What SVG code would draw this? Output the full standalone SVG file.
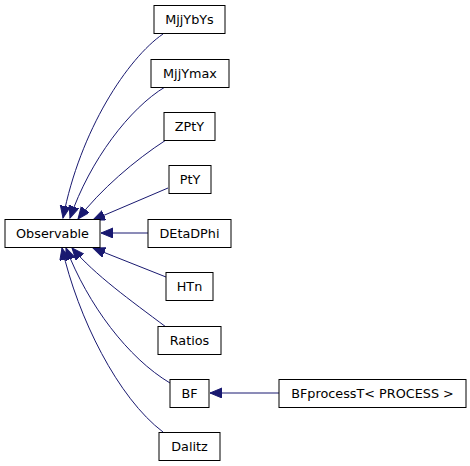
<svg xmlns="http://www.w3.org/2000/svg" width="470" height="466" viewBox="0 0 470 466">
<style>
.n rect{fill:#fff;stroke:#000;stroke-width:1}
.n text{font-family:"DejaVu Sans",sans-serif;font-size:12.8px;text-anchor:middle;fill:#000}
.e path{fill:none;stroke:#191970;stroke-width:1}
</style>
<defs>
<marker id="a" markerUnits="userSpaceOnUse" markerWidth="14" markerHeight="12" refX="12" refY="5" orient="auto">
<path d="M0,0 L12,5 L0,10 Z" fill="#191970" stroke="#191970"/>
</marker>
</defs>
<rect width="470" height="466" fill="#fff"/>
<g class="e">
<path d="M163,34 C128,58 80,130 63,218" marker-end="url(#a)"/>
<path d="M165,87 C130,108 90,160 70,218" marker-end="url(#a)"/>
<path d="M166,140 C135,160 100,190 78,219" marker-end="url(#a)"/>
<path d="M168,188 L93,220" marker-end="url(#a)"/>
<path d="M148,233 L101,233" marker-end="url(#a)"/>
<path d="M166,277 L93,248" marker-end="url(#a)"/>
<path d="M166,327 C130,300 95,275 72,248" marker-end="url(#a)"/>
<path d="M170,383 C128,358 88,305 66,248" marker-end="url(#a)"/>
<path d="M163,432 C118,398 78,318 62,248" marker-end="url(#a)"/>
<path d="M279,393 L210,393" marker-end="url(#a)"/>
</g>
<g id="Observable" class="n"><rect x="5" y="219.5" width="95" height="28"/><text x="52.5" y="238">Observable</text></g>
<g id="MjjYbYs" class="n"><rect x="154" y="5.5" width="71" height="28"/><text x="189.5" y="24">MjjYbYs</text></g>
<g id="MjjYmax" class="n"><rect x="151" y="59.5" width="78" height="28"/><text x="190" y="78">MjjYmax</text></g>
<g id="ZPtY" class="n"><rect x="164" y="112.5" width="51" height="28"/><text x="189.5" y="131">ZPtY</text></g>
<g id="PtY" class="n"><rect x="169" y="165.5" width="42" height="28"/><text x="190" y="184">PtY</text></g>
<g id="DEtaDPhi" class="n"><rect x="148" y="219.5" width="83" height="28"/><text x="189.5" y="238">DEtaDPhi</text></g>
<g id="HTn" class="n"><rect x="166" y="272.5" width="47" height="28"/><text x="189.5" y="291">HTn</text></g>
<g id="Ratios" class="n"><rect x="158" y="326.5" width="63" height="28"/><text x="189.5" y="345">Ratios</text></g>
<g id="BF" class="n"><rect x="170" y="379.5" width="39" height="28"/><text x="189.5" y="398">BF</text></g>
<g id="Dalitz" class="n"><rect x="159" y="432.5" width="61" height="28"/><text x="189.5" y="451">Dalitz</text></g>
<g id="BFprocessT" class="n"><rect x="279" y="379.5" width="187" height="28"/><text x="372.5" y="398">BFprocessT&lt; PROCESS &gt;</text></g>
</svg>
